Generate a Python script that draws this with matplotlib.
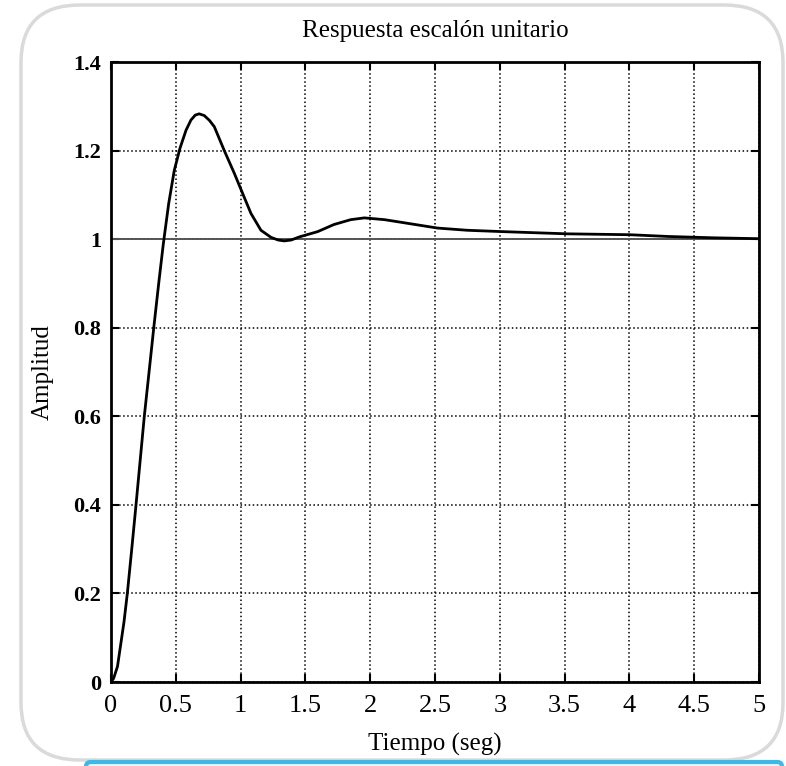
import numpy as np
import matplotlib.pyplot as plt
from matplotlib.patches import FancyBboxPatch

# respuesta al escalón
t = [0, 0.02, 0.05, 0.075, 0.1, 0.126, 0.16, 0.193, 0.225, 0.257, 0.29, 0.33,
     0.37, 0.404, 0.445, 0.488, 0.532, 0.579, 0.617, 0.65, 0.68, 0.72, 0.76, 0.797,
     0.874, 0.951, 1.016, 1.08, 1.157, 1.235, 1.29, 1.337, 1.39, 1.453, 1.595, 1.72,
     1.85, 1.955, 2.11, 2.24, 2.52, 2.75, 3.02, 3.52, 4.0, 4.3, 4.65, 5.0]
y = [0, 0.008, 0.035, 0.085, 0.135, 0.2, 0.3, 0.4, 0.5, 0.6, 0.69, 0.8,
     0.905, 0.99, 1.08, 1.155, 1.205, 1.246, 1.269, 1.28, 1.283, 1.279, 1.268, 1.254,
     1.2, 1.149, 1.103, 1.058, 1.02, 1.004, 0.998, 0.996, 0.998, 1.005, 1.017, 1.033,
     1.044, 1.048, 1.044, 1.038, 1.025, 1.02, 1.017, 1.012, 1.01, 1.006, 1.003, 1.001]

xticks = [0, 0.5, 1, 1.5, 2, 2.5, 3, 3.5, 4, 4.5, 5]
xlabels = ['0', '0.5', '1', '1.5', '2', '2.5', '3', '3.5', '4', '4.5', '5']
yticks = [0, 0.2, 0.4, 0.6, 0.8, 1, 1.2, 1.4]
ylabels = ['0', '0.2', '0.4', '0.6', '0.8', '1', '1.2', '1.4']

plt.rcParams['font.family'] = ['Liberation Serif', 'DejaVu Serif']

fig = plt.figure(figsize=(7.86, 7.66), dpi=100)

# marco redondeado y caja azul de abajo
W, H = 786.0, 766.0
marco = FancyBboxPatch((21 / W, 6 / H), 762 / W, 755 / H,
                       boxstyle="round,pad=0,rounding_size=0.075",
                       transform=fig.transFigure, facecolor='white',
                       edgecolor='#dadada', linewidth=2.5, zorder=-1)
fig.patches.append(marco)
caja = FancyBboxPatch((86 / W, -14 / H), 696 / W, 18 / H,
                      boxstyle="round,pad=0,rounding_size=0.006",
                      transform=fig.transFigure, facecolor='#e6f7fd',
                      edgecolor='#3fb8e6', linewidth=3, zorder=1)
fig.patches.append(caja)

ax = fig.add_axes([111 / W, 1 - 682 / H, 648 / W, 620 / H])
ax.set_facecolor('white')

ax.grid(True, linestyle=':', color='black', linewidth=1.1)
ax.axhline(1, color='#555555', linewidth=1.4, zorder=2)
ax.plot(t, y, color='black', linewidth=2, zorder=3)

ax.set_xlim(0, 5)
ax.set_ylim(0, 1.4)
ax.set_xticks(xticks)
ax.set_xticklabels(xlabels, fontsize=19)
ax.set_yticks(yticks)
ax.set_yticklabels(ylabels, fontsize=16, fontweight='bold')
ax.tick_params(direction='in', length=6, width=1.5, top=True, right=True)
ax.tick_params(axis='x', pad=9)
ax.tick_params(axis='y', pad=7)
for s in ax.spines.values():
    s.set_linewidth(2)

ax.set_title('Respuesta escalón unitario', fontsize=18, pad=18)
ax.set_xlabel('Tiempo (seg)', fontsize=18, labelpad=12)
ax.set_ylabel('Amplitud', fontsize=18, labelpad=14)

fig.savefig('out.png', dpi=100)
